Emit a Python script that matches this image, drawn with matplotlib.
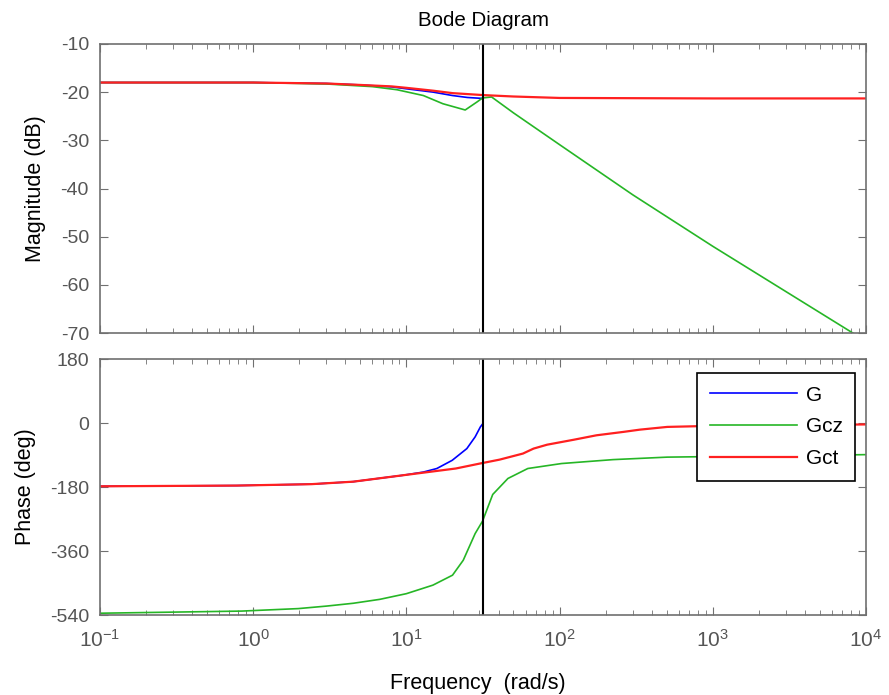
import numpy as np
import matplotlib
matplotlib.use("Agg")
import matplotlib.pyplot as plt
from matplotlib.ticker import LogLocator, NullFormatter

plt.rcParams["font.family"] = ["Liberation Sans", "DejaVu Sans"]
plt.rcParams["axes.unicode_minus"] = False
plt.rcParams["mathtext.fontset"] = "custom"
plt.rcParams["mathtext.rm"] = "Liberation Sans"
plt.rcParams["mathtext.it"] = "Liberation Sans:italic"
plt.rcParams["mathtext.bf"] = "Liberation Sans:bold"

# magnitude (dB)
g_w = [0.1, 1, 3, 5, 8, 10, 15, 20, 25, 31.4]
g_mag = [-18.0, -18.0, -18.2, -18.5, -18.9, -19.3, -20.0, -20.7, -21.1, -21.3]

gcz_w = [0.1, 1, 3, 6, 8.7, 12.9, 17.3, 24.2, 29, 31.4, 36, 50, 100, 300, 1000, 8200, 10000]
gcz_mag = [-18.0, -18.0, -18.3, -18.85, -19.5, -20.7, -22.4, -23.7, -22.0, -21.2, -21.0,
           -24.3, -30.9, -41.3, -52.0, -70.0, -71.7]

gct_w = [0.1, 1, 3, 5, 8, 10, 15, 20, 31.4, 50, 100, 1000, 10000]
gct_mag = [-18.0, -18.0, -18.2, -18.5, -18.8, -19.1, -19.7, -20.2, -20.6, -20.9, -21.2, -21.3, -21.3]

# phase (deg)
g_ph_w = [0.1, 0.78, 2.4, 4.5, 9.5, 12.9, 15.8, 19.9, 24.8, 28.1, 30.4, 31.4]
g_ph = [-178, -176, -172, -165, -147, -138, -128, -105, -72, -39, -11, -3]

gcz_ph_w = [0.1, 0.84, 1.97, 3.0, 4.5, 6.7, 10, 14.9, 20, 23.5, 28.1, 31.4, 36.6, 46, 62,
            103, 223, 504, 10000]
gcz_ph = [-535, -529, -522, -515, -507, -496, -480, -456, -428, -386, -311, -276, -201,
          -156, -128, -114, -103, -96, -89]

gct_ph_w = [0.1, 0.78, 2.4, 4.5, 9.5, 21, 30.2, 40.6, 57.6, 67.6, 82.9, 124, 174, 261,
            334, 504, 793, 10000]
gct_ph = [-178, -176, -172, -165, -147, -128, -114, -103, -86, -72, -61, -47, -34.6, -25,
          -18.7, -11, -9, -4]

names = ["G", "Gcz", "Gct"]
colors = ["#0000ff", "#26b626", "#ff2020"]
nyq = 31.4

axcol = "#707070"
labcol = "#555555"

fig = plt.figure(figsize=(8.89, 6.95), dpi=100)
ax1 = fig.add_axes([100/889, 1-333/695, 766/889, 289/695])
ax2 = fig.add_axes([100/889, 1-615/695, 766/889, 256/695])

ax1.plot(g_w, g_mag, color=colors[0], lw=1.2)
ax1.plot(gcz_w, gcz_mag, color=colors[1], lw=1.2)
ax1.plot(gct_w, gct_mag, color=colors[2], lw=1.6)

ax2.plot(g_ph_w, g_ph, color=colors[0], lw=1.2, label=names[0])
ax2.plot(gcz_ph_w, gcz_ph, color=colors[1], lw=1.2, label=names[1])
ax2.plot(gct_ph_w, gct_ph, color=colors[2], lw=1.6, label=names[2])

for ax in (ax1, ax2):
    ax.axvline(nyq, color="black", lw=1.5)
    ax.set_xscale("log")
    ax.set_xlim(0.1, 1e4)
    ax.xaxis.set_major_locator(LogLocator(base=10, numticks=10))
    ax.xaxis.set_minor_locator(LogLocator(base=10, subs=np.arange(2, 10), numticks=20))
    ax.xaxis.set_minor_formatter(NullFormatter())
    ax.tick_params(which="both", direction="in", top=True, right=True, colors=axcol,
                   labelsize=14, labelcolor=labcol)
    ax.tick_params(which="major", length=6)
    ax.tick_params(which="minor", length=3.5)
    ax.tick_params(axis="y", pad=8)
    for s in ax.spines.values():
        s.set_color(axcol)
        s.set_linewidth(1.2)

ax1.set_ylim(-70, -10)
ax1.set_yticks(np.arange(-70, -9, 10))
ax1.tick_params(labelbottom=False)
ax1.set_ylabel("Magnitude (dB)", fontsize=15.5)
ax1.yaxis.set_label_coords(-0.0705, 0.5)
ax1.set_title("Bode Diagram", fontsize=14.8, pad=13)

ax2.set_ylim(-540, 180)
ax2.set_yticks([-540, -360, -180, 0, 180])
ax2.set_ylabel("Phase (deg)", fontsize=15.5)
ax2.yaxis.set_label_coords(-0.0836, 0.5)
ax2.set_xlabel("Frequency  (rad/s)", fontsize=15.5)
ax2.xaxis.set_label_coords(0.493, -0.225)
ax2.tick_params(axis="x", pad=10, labelsize=15)

leg = ax2.legend(loc="upper right", bbox_to_anchor=(0.9856, 0.9453), borderaxespad=0,
                 fontsize=15, frameon=True, fancybox=False, framealpha=1,
                 edgecolor="black", handlelength=4.2, borderpad=0.6, labelspacing=0.62,
                 handletextpad=0.4)
leg.get_frame().set_linewidth(1.2)

fig.savefig("out.png", dpi=100)
